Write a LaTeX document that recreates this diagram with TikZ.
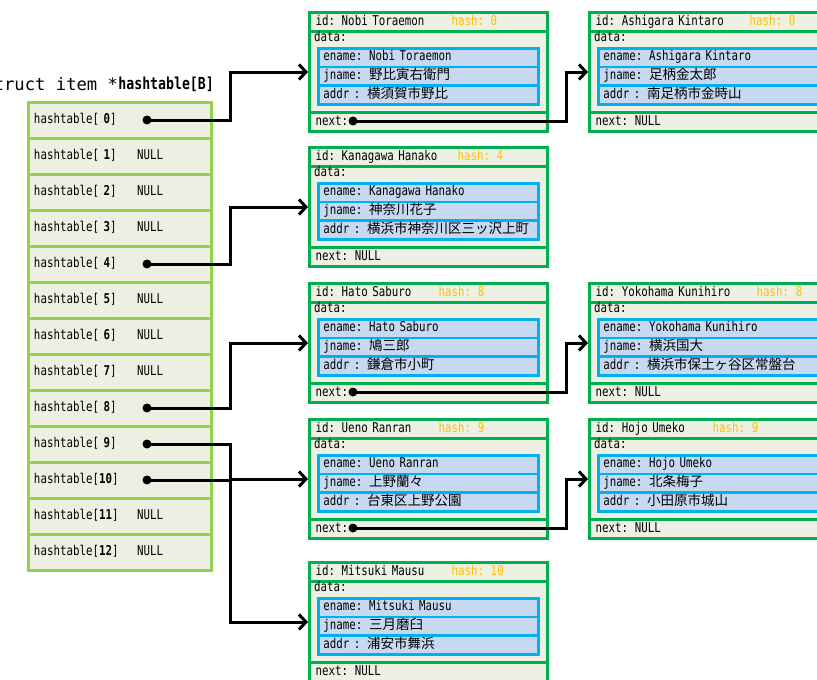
\documentclass[tikz,border=0pt]{standalone}
\usepackage{fontspec}
\setmainfont{DejaVu Sans Mono}[FakeStretch=0.8]
\newfontfamily\titlefont{DejaVu Sans Mono}
\newfontfamily\jpfont{Noto Sans CJK JP}
\newcommand{\jtext}[1]{{\jpfont #1}}
\usepackage{tikz}
\usetikzlibrary{arrows.meta}

\definecolor{cellline}{RGB}{146,208,80}
\definecolor{cellfill}{RGB}{236,239,225}
\definecolor{recline}{RGB}{0,176,80}
\definecolor{recfill}{RGB}{238,240,227}
\definecolor{fieldline}{RGB}{0,176,240}
\definecolor{fieldfill}{RGB}{198,217,241}
\definecolor{hashc}{RGB}{255,192,0}

\begin{document}
\begin{tikzpicture}[
  x=1pt, y=-1pt,
  font=\fontsize{13.5}{15}\selectfont,
  cell/.style={draw=cellline, fill=cellfill, line width=3pt, minimum width=183pt, minimum height=36pt, text width=171pt, inner xsep=6pt, inner ysep=0pt, align=left, text height=9.5pt, text depth=3pt},
  recrow/.style={draw=recline, fill=recfill, line width=3pt, anchor=north west, minimum width=238pt, minimum height=19pt, text width=226pt, inner xsep=6pt, inner ysep=0pt, align=left, text height=9.5pt, text depth=3pt},
  recdata/.style={recrow, minimum height=81pt},
  fieldrow/.style={draw=fieldline, fill=fieldfill, line width=2.6pt, anchor=north west, minimum width=220pt, minimum height=18.7pt, text width=210pt, inner xsep=5pt, inner ysep=0pt, align=left, text height=9.5pt, text depth=3pt},
  lbl/.style={anchor=west, inner sep=0pt, text height=9.5pt, text depth=3pt},
  ptrdot/.style={circle, fill=black, minimum size=9pt, inner sep=0pt},
  link/.style={line width=3pt, -{Straight Barb[length=7pt,width=15pt]}},
]
  \useasboundingbox (0,0) rectangle (817,680);
  \clip (0,0) rectangle (817,680);
  \fill[white] (0,0) rectangle (817,680);

  % Title
  \node[anchor=east, inner sep=0pt, font=\fontsize{16.5}{18}\selectfont\bfseries] (title) at (214,84) {hashtable[B]};
  \node[anchor=east, inner sep=0pt, font=\titlefont\fontsize{17.2}{18}\selectfont] (title-type) at (title.west) {struct item *};

  % Hash table cells
  \node[cell] (h0) at (119.5,120) {hashtable[ \textbf{0}]};
  \node[cell] (h1) at (119.5,156) {hashtable[ \textbf{1}]};
  \node[cell] (h2) at (119.5,192) {hashtable[ \textbf{2}]};
  \node[cell] (h3) at (119.5,228) {hashtable[ \textbf{3}]};
  \node[cell] (h4) at (119.5,264) {hashtable[ \textbf{4}]};
  \node[cell] (h5) at (119.5,300) {hashtable[ \textbf{5}]};
  \node[cell] (h6) at (119.5,336) {hashtable[ \textbf{6}]};
  \node[cell] (h7) at (119.5,372) {hashtable[ \textbf{7}]};
  \node[cell] (h8) at (119.5,408) {hashtable[ \textbf{8}]};
  \node[cell] (h9) at (119.5,444) {hashtable[ \textbf{9}]};
  \node[cell] (h10) at (119.5,480) {hashtable[\textbf{10}]};
  \node[cell] (h11) at (119.5,516) {hashtable[\textbf{11}]};
  \node[cell] (h12) at (119.5,552) {hashtable[\textbf{12}]};

  % Empty slots
  \node[lbl] (n1) at (137,156) {NULL};
  \node[lbl] (n2) at (137,192) {NULL};
  \node[lbl] (n3) at (137,228) {NULL};
  \node[lbl] (n5) at (137,300) {NULL};
  \node[lbl] (n6) at (137,336) {NULL};
  \node[lbl] (n7) at (137,372) {NULL};
  \node[lbl] (n11) at (137,516) {NULL};
  \node[lbl] (n12) at (137,552) {NULL};

  % Used slots
  \node[ptrdot] (d0) at (147,120) {};
  \node[ptrdot] (d4) at (147,264) {};
  \node[ptrdot] (d8) at (147,408) {};
  \node[ptrdot] (d9) at (147,444) {};
  \node[ptrdot] (d10) at (147,480) {};

  % Nobi Toraemon (hash 0)
  \node[recrow] (nobi-id) at (308,11) {\makebox[136pt][l]{id: Nobi Toraemon}\textcolor{hashc}{hash: 0}};
  \node[recdata] (nobi) at (308,30) {};
  \node[lbl] at (314,38) {data:};
  \node[fieldrow] (nobi-e) at (317,47) {ename: Nobi Toraemon};
  \node[fieldrow] (nobi-j) at (317,65.7) {jname: \jtext{野比寅右衛門}};
  \node[fieldrow] (nobi-a) at (317,84.4) {addr : \jtext{横須賀市野比}};
  \node[recrow] (nobi-nx) at (308,111) {next:};
  \node[ptrdot] (nobi-ptr) at (353,121) {};

  % Ashigara Kintaro (hash 0)
  \node[recrow] (ashigara-id) at (588,11) {\makebox[154pt][l]{id: Ashigara Kintaro}\textcolor{hashc}{hash: 0}};
  \node[recdata] (ashigara) at (588,30) {};
  \node[lbl] at (594,38) {data:};
  \node[fieldrow] (ashigara-e) at (597,47) {ename: Ashigara Kintaro};
  \node[fieldrow] (ashigara-j) at (597,65.7) {jname: \jtext{足柄金太郎}};
  \node[fieldrow] (ashigara-a) at (597,84.4) {addr : \jtext{南足柄市金時山}};
  \node[recrow] (ashigara-nx) at (588,111) {next: NULL};

  % Kanagawa Hanako (hash 4)
  \node[recrow] (kanagawa-id) at (308,146) {\makebox[142pt][l]{id: Kanagawa Hanako}\textcolor{hashc}{hash: 4}};
  \node[recdata] (kanagawa) at (308,165) {};
  \node[lbl] at (314,173) {data:};
  \node[fieldrow] (kanagawa-e) at (317,182) {ename: Kanagawa Hanako};
  \node[fieldrow] (kanagawa-j) at (317,200.7) {jname: \jtext{神奈川花子}};
  \node[fieldrow] (kanagawa-a) at (317,219.4) {addr : \jtext{横浜市神奈川区三ッ沢上町}};
  \node[recrow] (kanagawa-nx) at (308,246) {next: NULL};

  % Hato Saburo (hash 8)
  \node[recrow] (hato-id) at (308,282) {\makebox[123pt][l]{id: Hato Saburo}\textcolor{hashc}{hash: 8}};
  \node[recdata] (hato) at (308,301) {};
  \node[lbl] at (314,309) {data:};
  \node[fieldrow] (hato-e) at (317,318) {ename: Hato Saburo};
  \node[fieldrow] (hato-j) at (317,336.7) {jname: \jtext{鳩三郎}};
  \node[fieldrow] (hato-a) at (317,355.4) {addr : \jtext{鎌倉市小町}};
  \node[recrow] (hato-nx) at (308,382) {next:};
  \node[ptrdot] (hato-ptr) at (353,392) {};

  % Yokohama Kunihiro (hash 8)
  \node[recrow] (yokohama-id) at (588,282) {\makebox[161pt][l]{id: Yokohama Kunihiro}\textcolor{hashc}{hash: 8}};
  \node[recdata] (yokohama) at (588,301) {};
  \node[lbl] at (594,309) {data:};
  \node[fieldrow] (yokohama-e) at (597,318) {ename: Yokohama Kunihiro};
  \node[fieldrow] (yokohama-j) at (597,336.7) {jname: \jtext{横浜国大}};
  \node[fieldrow] (yokohama-a) at (597,355.4) {addr : \jtext{横浜市保土ヶ谷区常盤台}};
  \node[recrow] (yokohama-nx) at (588,382) {next: NULL};

  % Ueno Ranran (hash 9)
  \node[recrow] (ueno-id) at (308,418) {\makebox[123pt][l]{id: Ueno Ranran}\textcolor{hashc}{hash: 9}};
  \node[recdata] (ueno) at (308,437) {};
  \node[lbl] at (314,445) {data:};
  \node[fieldrow] (ueno-e) at (317,454) {ename: Ueno Ranran};
  \node[fieldrow] (ueno-j) at (317,472.7) {jname: \jtext{上野蘭々}};
  \node[fieldrow] (ueno-a) at (317,491.4) {addr : \jtext{台東区上野公園}};
  \node[recrow] (ueno-nx) at (308,518) {next:};
  \node[ptrdot] (ueno-ptr) at (353,528) {};

  % Hojo Umeko (hash 9)
  \node[recrow] (hojo-id) at (588,418) {\makebox[117pt][l]{id: Hojo Umeko}\textcolor{hashc}{hash: 9}};
  \node[recdata] (hojo) at (588,437) {};
  \node[lbl] at (594,445) {data:};
  \node[fieldrow] (hojo-e) at (597,454) {ename: Hojo Umeko};
  \node[fieldrow] (hojo-j) at (597,472.7) {jname: \jtext{北条梅子}};
  \node[fieldrow] (hojo-a) at (597,491.4) {addr : \jtext{小田原市城山}};
  \node[recrow] (hojo-nx) at (588,518) {next: NULL};

  % Mitsuki Mausu (hash 10)
  \node[recrow] (mitsuki-id) at (308,561) {\makebox[136pt][l]{id: Mitsuki Mausu}\textcolor{hashc}{hash: 10}};
  \node[recdata] (mitsuki) at (308,580) {};
  \node[lbl] at (314,588) {data:};
  \node[fieldrow] (mitsuki-e) at (317,597) {ename: Mitsuki Mausu};
  \node[fieldrow] (mitsuki-j) at (317,615.7) {jname: \jtext{三月磨臼}};
  \node[fieldrow] (mitsuki-a) at (317,634.4) {addr : \jtext{浦安市舞浜}};
  \node[recrow] (mitsuki-nx) at (308,661) {next: NULL};

  % Pointers from the table
  \draw[link] (d0.center) -- ++(83,0) |- (nobi.west);
  \draw[link] (d4.center) -- ++(83,0) |- (kanagawa.west);
  \draw[link] (d8.center) -- ++(83,0) |- (hato.west);
  \draw[link] (d9.center) -- ++(83,0) |- (ueno.west);
  \draw[link] (d10.center) -- ++(83,0) |- (mitsuki.west);

  % next pointers
  \draw[link] (nobi-ptr.center) -- ++(213,0) |- (ashigara.west);
  \draw[link] (hato-ptr.center) -- ++(213,0) |- (yokohama.west);
  \draw[link] (ueno-ptr.center) -- ++(213,0) |- (hojo.west);

\end{tikzpicture}
\end{document}
